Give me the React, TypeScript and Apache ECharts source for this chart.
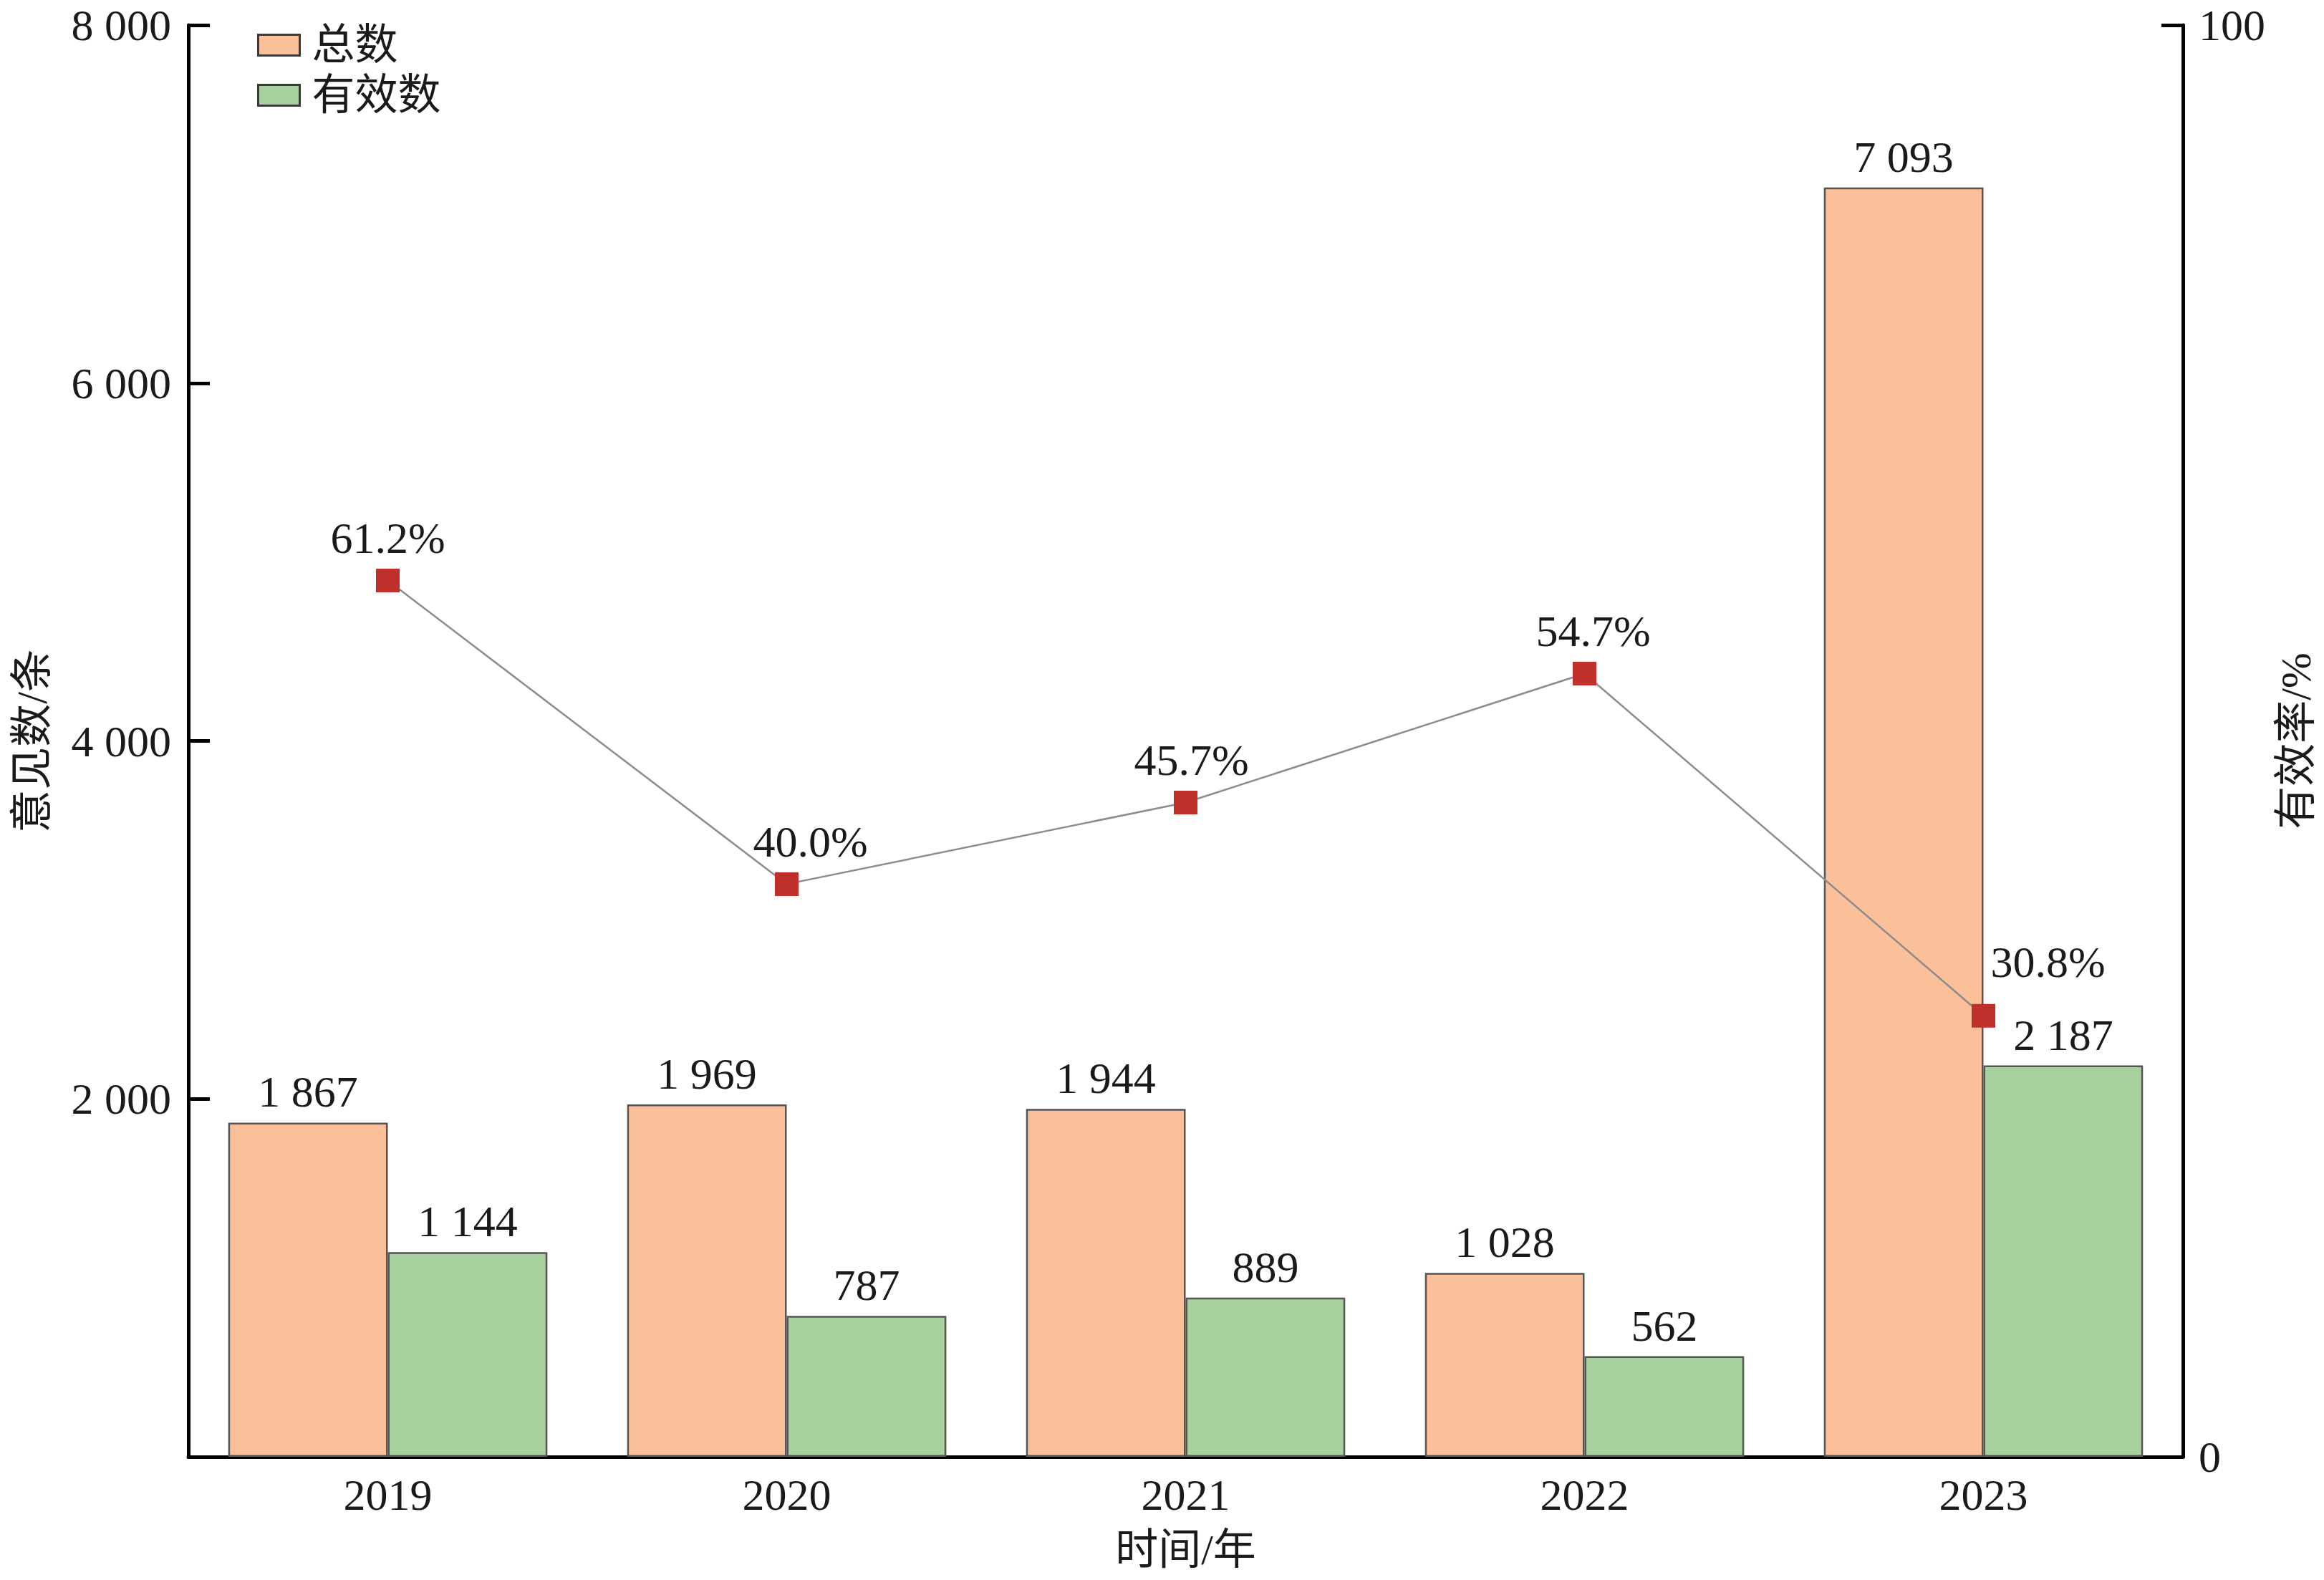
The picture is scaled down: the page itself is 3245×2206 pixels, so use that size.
import React, { useEffect, useRef } from "react";
import * as echarts from "echarts";

const years = ["2019", "2020", "2021", "2022", "2023"];
const totalCounts = [1867, 1969, 1944, 1028, 7093];
const validCounts = [1144, 787, 889, 562, 2187];
const validRates = [61.2, 40.0, 45.7, 54.7, 30.8];
const leftTicks = { min: 0, max: 8000, interval: 2000 };
const rightTicks = { min: 0, max: 100, interval: 100 };

const FONT = "'Liberation Serif', 'Times New Roman', 'Noto Sans CJK SC', serif";
const TXT = "#1a1a1a";

const fmt = (v: number) => String(v).replace(/\B(?=(\d{3})+(?!\d))/g, " ");

export default function App() {
  const ref = useRef<HTMLDivElement>(null);
  useEffect(() => {
    document.body.style.margin = "0";
    document.body.style.overflow = "hidden";
    const chart = echarts.init(ref.current!, null, { renderer: "svg" });
    const rateLabelOffsets: Record<number, number[]> = {
      1: [33, 0],
      2: [8, 0],
      3: [12, 0],
      4: [90, -16],
    };
    const axisLine = { show: true, lineStyle: { color: "#000", width: 5 } };
    chart.setOption({
      animation: false,
      backgroundColor: "#fff",
      textStyle: { fontFamily: FONT, color: TXT },
      grid: { left: 263, right: 197, top: 35, bottom: 172, containLabel: false },
      legend: {
        orient: "vertical",
        left: 354,
        top: 28,
        icon: "rect",
        itemWidth: 58,
        itemHeight: 29,
        itemGap: 10,
        textStyle: { fontFamily: FONT, fontSize: 60, color: TXT, lineHeight: 60, padding: [0, 0, 0, 12] },
        data: [
          { name: "总数", itemStyle: { color: "#FBBF9A", borderColor: "#3a3a3a", borderWidth: 3 } },
          { name: "有效数", itemStyle: { color: "#A7D19D", borderColor: "#3a3a3a", borderWidth: 3 } },
        ],
      },
      xAxis: {
        type: "category",
        data: years,
        boundaryGap: true,
        axisLine,
        axisTick: { show: false },
        axisLabel: { fontFamily: FONT, fontSize: 62, color: TXT, margin: 22 },
        name: "时间/年",
        nameLocation: "middle",
        nameGap: 100,
        nameTextStyle: { fontFamily: FONT, fontSize: 60, color: TXT },
      },
      yAxis: [
        {
          type: "value",
          ...leftTicks,
          axisLine,
          axisTick: { show: true, inside: true, length: 30, lineStyle: { color: "#000", width: 5 } },
          splitLine: { show: false },
          axisLabel: {
            fontFamily: FONT,
            fontSize: 62,
            color: TXT,
            margin: 24,
            formatter: (v: number) => (v === 0 ? "" : fmt(v)),
          },
          name: "意见数/条",
          nameLocation: "middle",
          nameRotate: 90,
          nameGap: 188,
          nameTextStyle: { fontFamily: FONT, fontSize: 60, color: TXT },
        },
        {
          type: "value",
          ...rightTicks,
          position: "right",
          axisLine,
          axisTick: { show: true, inside: true, length: 30, lineStyle: { color: "#000", width: 5 } },
          splitLine: { show: false },
          axisLabel: { fontFamily: FONT, fontSize: 62, color: TXT, margin: 22 },
          name: "有效率/%",
          nameLocation: "middle",
          nameRotate: 90,
          nameGap: 128,
          nameTextStyle: { fontFamily: FONT, fontSize: 60, color: TXT },
        },
      ],
      series: [
        {
          name: "总数",
          type: "bar",
          data: totalCounts,
          barGap: "0%",
          barCategoryGap: "20%",
          itemStyle: { color: "#FBBF9A", borderColor: "#555", borderWidth: 2.5 },
          label: {
            show: true,
            position: "top",
            distance: 12,
            fontFamily: FONT,
            fontSize: 62,
            color: TXT,
            formatter: (p: any) => fmt(p.value),
          },
          z: 2,
        },
        {
          name: "有效数",
          type: "bar",
          data: validCounts,
          itemStyle: { color: "#A7D19D", borderColor: "#555", borderWidth: 2.5 },
          label: {
            show: true,
            position: "top",
            distance: 12,
            fontFamily: FONT,
            fontSize: 62,
            color: TXT,
            formatter: (p: any) => fmt(p.value),
          },
          z: 2,
        },
        {
          name: "有效率",
          type: "line",
          yAxisIndex: 1,
          data: validRates.map((v, i) => ({
            value: v,
            label: rateLabelOffsets[i] ? { offset: rateLabelOffsets[i] } : undefined,
          })),
          symbol: "rect",
          symbolSize: 33,
          itemStyle: { color: "#C0302B" },
          lineStyle: { color: "#8c8c8c", width: 2.5 },
          label: {
            show: true,
            position: "top",
            distance: 12,
            fontFamily: FONT,
            fontSize: 62,
            color: TXT,
            formatter: (p: any) => `${Number(p.value).toFixed(1)}%`,
          },
          z: 5,
        },
      ],
    });
    return () => chart.dispose();
  }, []);
  return <div ref={ref} style={{ width: 3245, height: 2206 }} />;
}
